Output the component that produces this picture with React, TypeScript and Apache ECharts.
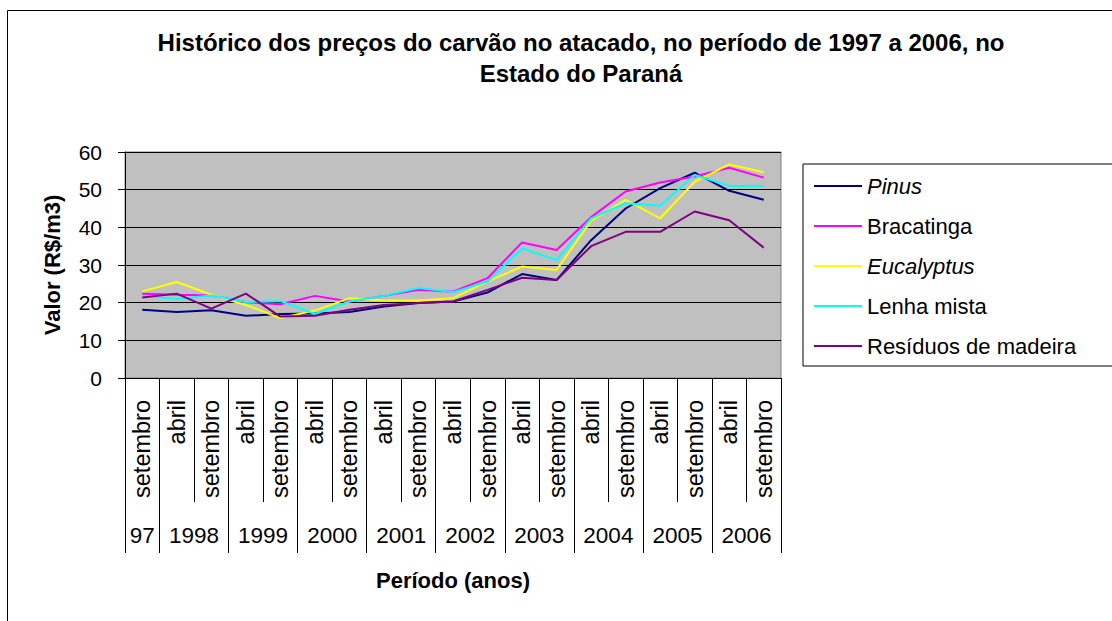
import React, { useEffect, useRef } from 'react';
import * as echarts from 'echarts';

const FONT = '"Liberation Sans", Arial, sans-serif';

const categories = [
  'setembro',
  'abril', 'setembro',
  'abril', 'setembro',
  'abril', 'setembro',
  'abril', 'setembro',
  'abril', 'setembro',
  'abril', 'setembro',
  'abril', 'setembro',
  'abril', 'setembro',
  'abril', 'setembro',
];

const yearLabels = ['97', '1998', '1999', '2000', '2001', '2002', '2003', '2004', '2005', '2006'];
const yearSpans = [1, 2, 2, 2, 2, 2, 2, 2, 2, 2];

const seriesNames = ['Pinus', 'Bracatinga', 'Eucalyptus', 'Lenha mista', 'Resíduos de madeira'];
const italicNames = ['Pinus', 'Eucalyptus'];
const seriesColors = ['#000080', '#FF00FF', '#FFFF00', '#00FFFF', '#800080'];

const pinus = [18.1, 17.5, 18.0, 16.5, 17.0, 17.1, 17.5, 19.0, 19.9, 20.3, 22.7, 27.6, 26.0, 36.6, 45.0, 50.4, 54.5, 49.7, 47.3];
const bracatinga = [22.4, 22.1, 21.9, 20.1, 19.6, 21.8, 20.3, 21.8, 23.4, 22.9, 26.5, 36.0, 34.0, 42.7, 49.5, 51.9, 53.5, 55.8, 53.2];
const eucalyptus = [23.0, 25.5, 22.1, 19.4, 15.9, 17.9, 21.2, 20.6, 20.6, 21.2, 25.6, 29.6, 28.7, 41.7, 47.3, 42.4, 52.1, 56.7, 54.6];
const lenhaMista = [21.8, 21.0, 21.9, 20.2, 20.4, 17.0, 20.3, 21.8, 23.9, 22.8, 25.6, 34.4, 31.3, 42.4, 46.4, 45.7, 53.9, 51.0, 51.0];
const residuos = [21.4, 22.4, 18.4, 22.4, 16.3, 16.5, 18.1, 19.4, 19.9, 20.3, 23.4, 26.6, 26.0, 35.0, 38.8, 38.8, 44.2, 41.9, 34.6];

const seriesValues = [pinus, bracatinga, eucalyptus, lenhaMista, residuos];

const yMin = 0;
const yMax = 60;
const yInterval = 10;

export default function App() {
  const ref = useRef<HTMLDivElement>(null);

  useEffect(() => {
    if (!ref.current) return;
    const chart = echarts.init(ref.current, null, { renderer: 'svg' });

    // group boundaries and centres (in category units)
    const boundaries: number[] = [0];
    const centres: number[] = [];
    let acc = 0;
    yearSpans.forEach((s) => {
      centres.push(acc + s / 2);
      acc += s;
      boundaries.push(acc);
    });

    chart.setOption({
      animation: false,
      backgroundColor: '#ffffff',
      textStyle: { fontFamily: FONT, color: '#000' },
      title: {
        text: 'Histórico dos preços do carvão no atacado, no período de 1997 a 2006, no\nEstado do Paraná',
        left: 576,
        top: 22,
        textAlign: 'center',
        textStyle: {
          fontFamily: FONT,
          fontSize: 24,
          fontWeight: 'bold',
          lineHeight: 31,
          color: '#000',
        },
      },
      graphic: [
        {
          type: 'rect',
          silent: true,
          z: -10,
          shape: { x: 7.5, y: 10.5, width: 1140, height: 700 },
          style: { fill: 'none', stroke: '#000', lineWidth: 1 },
        },
      ],
      legend: {
        orient: 'vertical',
        left: 803,
        top: 164,
        padding: [10, 60, 8, 11],
        itemWidth: 48,
        itemHeight: 2,
        itemGap: 16,
        itemTextGap: 6,
        icon: 'rect',
        borderColor: '#000',
        borderWidth: 1,
        selectedMode: false,
        data: seriesNames,
        formatter: (name: string) => (italicNames.includes(name) ? `{i|${name}}` : name),
        textStyle: {
          fontFamily: FONT,
          fontSize: 22,
          lineHeight: 24,
          color: '#000',
          rich: {
            i: { fontFamily: FONT, fontSize: 22, lineHeight: 24, fontStyle: 'italic', color: '#000' },
          },
        },
      },
      grid: {
        left: 125,
        top: 152,
        right: 331,
        bottom: 243,
        show: true,
        backgroundColor: '#C0C0C0',
        borderColor: '#808080',
        borderWidth: 1,
        containLabel: false,
      },
      xAxis: [
        {
          type: 'category',
          data: categories,
          boundaryGap: true,
          position: 'bottom',
          axisLine: { show: true, lineStyle: { color: '#000', width: 1 } },
          axisTick: { show: true, interval: 0, length: 124, inside: false, lineStyle: { color: '#000', width: 1 } },
          axisLabel: {
            interval: 0,
            rotate: 90,
            margin: 22,
            fontSize: 23.5,
            fontFamily: FONT,
            color: '#000',
          },
          splitLine: { show: false },
          name: 'Período (anos)',
          nameLocation: 'middle',
          nameGap: 191,
          nameTextStyle: { fontFamily: FONT, fontSize: 22, fontWeight: 'bold', color: '#000' },
        },
        {
          type: 'value',
          min: 0,
          max: categories.length,
          interval: 0.5,
          position: 'bottom',
          axisLine: { show: false },
          axisTick: {
            show: true,
            length: 175,
            inside: false,
            customValues: boundaries,
            lineStyle: { color: '#000', width: 1 },
          },
          axisLabel: {
            show: true,
            customValues: centres,
            margin: 146,
            fontSize: 22.5,
            fontFamily: FONT,
            color: '#000',
            formatter: (v: number) => {
              const idx = centres.findIndex((c) => Math.abs(c - v) < 1e-6);
              return idx >= 0 ? yearLabels[idx] : '';
            },
          },
          splitLine: { show: false },
        },
      ],
      yAxis: {
        type: 'value',
        min: yMin,
        max: yMax,
        interval: yInterval,
        axisLine: { show: true, lineStyle: { color: '#000', width: 1 } },
        axisTick: { show: true, length: 7, lineStyle: { color: '#000', width: 1 } },
        axisLabel: { margin: 23, fontSize: 21, fontFamily: FONT, color: '#000' },
        splitLine: { show: true, lineStyle: { color: '#000', width: 1 } },
        name: 'Valor (R$/m3)',
        nameLocation: 'middle',
        nameGap: 62,
        nameTextStyle: { fontFamily: FONT, fontSize: 22, fontWeight: 'bold', color: '#000' },
      },
      series: seriesNames.map((name, i) => ({
        name,
        type: 'line',
        xAxisIndex: 0,
        yAxisIndex: 0,
        data: seriesValues[i],
        symbol: 'none',
        showSymbol: false,
        color: seriesColors[i],
        lineStyle: { color: seriesColors[i], width: 2 },
        emphasis: { disabled: true },
        z: 2 + i,
      })),
    });

    return () => chart.dispose();
  }, []);

  return (
    <div
      ref={ref}
      style={{ position: 'fixed', left: 0, top: 0, width: 1112, height: 621, background: '#fff' }}
    />
  );
}
